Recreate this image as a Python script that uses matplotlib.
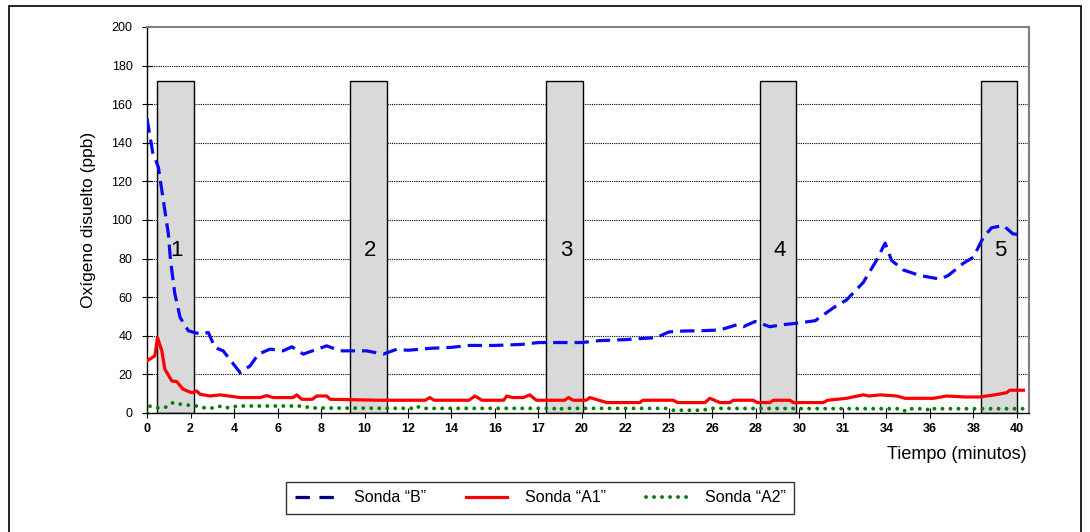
import matplotlib
matplotlib.use("Agg")
import matplotlib.pyplot as plt
from matplotlib.lines import Line2D
from matplotlib.patches import Rectangle

plt.rcParams['font.family'] = ['Liberation Sans', 'DejaVu Sans']

# category axis: one tick every step, labelled with the elapsed minutes
tick_labels = ['0', '2', '4', '6', '8', '10', '12', '14', '16', '17', '20',
               '22', '23', '26', '28', '30', '31', '34', '36', '38', '40']

# Sonda "B" (position on the category axis, ppb)
pos_b = [0, 0.13, 0.26, 0.375, 0.49, 0.54, 0.64, 0.76, 0.95, 1.22, 1.41, 1.56, 1.75, 2.14,
         2.37, 2.56, 2.83, 3.13, 3.33, 3.59, 4.13, 4.44, 5.05, 5.43, 5.74, 6.0, 6.5, 7.0,
         7.4, 8.0, 8.6, 9.0, 9.5, 10.0, 10.4, 11.0, 11.3, 11.7, 12.0, 12.35, 12.71, 13.17,
         13.56, 13.71, 13.98, 14.32, 14.59, 14.9, 15.36, 15.82, 16.08, 16.47, 16.77, 16.97,
         17.12, 17.39, 17.77, 18.23, 18.42, 18.77, 19.0, 19.23, 19.42, 19.69, 19.91, 20.13]
sonda_b = [152.6, 135, 127.4, 110, 92.8, 79, 61.7, 49.5, 42.6, 40.9, 41.7, 33.9, 32.2, 20.9,
           24.4, 30.5, 33.1, 32.2, 34.3, 30.5, 34.8, 32.2, 32.2, 30.5, 33, 32.5, 33.5, 34,
           35, 35, 35.5, 36.5, 36.5, 36.5, 37.5, 38, 38.5, 39, 42, 42.5, 42.6, 43,
           45.7, 44.7, 47.4, 44.7, 45.7, 46.4, 47.8, 55.1, 58.5, 67.7, 79, 88,
           79, 74.1, 71.2, 69.4, 71.2, 77.6, 80.7, 91.1, 96, 97.1, 92.8, 92.3]

# Sonda "A1"
pos_a1 = [0, 0.18, 0.24, 0.34, 0.41, 0.57, 0.68, 0.83, 1.03, 1.14, 1.22, 1.45, 1.68, 2.14,
          2.6, 2.75, 2.9, 3.36, 3.44, 3.56, 3.8, 3.9, 4.13, 4.21, 5.36, 6.4, 6.5, 6.6, 7.4,
          7.54, 7.7, 8.2, 8.27, 8.4, 8.65, 8.8, 8.95, 9.6, 9.69, 9.8, 10.1, 10.18, 10.57,
          11.33, 11.4, 12.1, 12.2, 12.83, 12.94, 13.17, 13.4, 13.48, 13.94, 14.03, 14.32,
          14.4, 14.78, 14.86, 15.55, 15.65, 16.08, 16.47, 16.6, 16.86, 17.24, 17.43, 18.08,
          18.38, 18.8, 19.15, 19.49, 19.76, 19.84, 20.15]
sonda_a1 = [27, 29.6, 39.1, 32.2, 22.7, 16.6, 16.3, 12.3, 10.5, 11.4, 9.7, 8.8, 9.4, 8,
            8, 9, 8, 8, 9.4, 7.1, 7.1, 8.8, 8.8, 7.1, 6.6, 6.6, 8, 6.6, 6.6,
            8.8, 6.6, 6.6, 8.8, 8.0, 8.0, 9.4, 6.6, 6.6, 8, 6.6, 6.6, 8, 5.4,
            5.4, 6.6, 6.6, 5.4, 5.4, 7.6, 5.4, 5.4, 6.6, 6.6, 5.4, 5.4,
            6.6, 6.6, 5.4, 5.4, 6.6, 7.6, 9.4, 8.8, 9.4, 8.8, 7.6, 7.6,
            8.8, 8.3, 8.3, 9.4, 10.5, 11.8, 11.8]

# Sonda "A2"
pos_a2 = [0, 0.05, 0.26, 0.44, 0.6, 0.78, 0.98, 1.15, 1.33, 1.55, 1.7, 1.88, 2.07, 3.6,
          3.75, 6.1, 6.2, 6.3, 9.35, 9.45, 9.55, 11.95, 12.1, 12.8, 12.9, 17.35, 17.43,
          17.5, 17.92, 18.0, 18.08, 20.15]
sonda_a2 = [0, 3.6, 2.6, 3.1, 5.4, 4.5, 4.0, 3.6, 2.6, 2.6, 3.6, 2.6, 3.6, 3.6,
            2.6, 2.4, 3.6, 2.4, 2.4, 1.4, 2.4, 2.4, 1.4, 1.4, 2.4, 2.2, 1.0,
            2.2, 2.2, 1.0, 2.2, 2.2]

# sampling windows
ventanas = ['1', '2', '3', '4', '5']
ventana_pos = [0.655, 5.09, 9.605, 14.505, 19.59]
ventana_alto = 172

fig = plt.figure(figsize=(10.9, 5.32), dpi=100)
ax = fig.add_axes([0.1349, 0.2237, 0.8092, 0.7256])

for yv in range(20, 200, 20):
    ax.axhline(yv, color='black', lw=0.8, ls=(0, (1, 1)), zorder=1)

ax.bar(ventana_pos, [ventana_alto] * len(ventanas), width=0.845, color='#D9D9D9',
       edgecolor='black', linewidth=1.0, zorder=2)
for p, t in zip(ventana_pos, ventanas):
    ax.text(p + 0.03, 84, t, ha='center', va='center', fontsize=16, zorder=3)

blue_style = dict(lw=2.3, ls=(0, (4.5, 2.2)), dash_capstyle='butt')
red_style = dict(lw=2.3, ls='-')
green_style = dict(lw=2.8, ls=(0, (0.01, 2.05)), dash_capstyle='round')

ax.plot(pos_b, sonda_b, color='#0A0AF0', zorder=4, **blue_style)
ax.plot(pos_a1, sonda_a1, color='#FF0000', zorder=4, **red_style)
ax.plot(pos_a2, sonda_a2, color='#008000', zorder=4, **green_style)

ax.set_xlim(0, 20.28)
ax.set_ylim(0, 200)
ax.set_xticks(range(len(tick_labels)))
ax.set_xticklabels(tick_labels, fontsize=9, fontweight='bold')
ax.set_yticks(range(0, 201, 20))
ax.tick_params(axis='y', labelsize=9, direction='inout', length=7, width=0.8, pad=7)
ax.tick_params(axis='x', direction='inout', length=7, width=0.8, pad=4)

for side in ['top', 'right']:
    ax.spines[side].set_color('#808080')
    ax.spines[side].set_linewidth(1.5)
for side in ['left', 'bottom']:
    ax.spines[side].set_color('black')
    ax.spines[side].set_linewidth(1.0)

fig.text(0.081, 0.5865, 'Oxígeno disuelto (ppb)', rotation=90, ha='center', va='center',
         fontsize=12.5)
fig.text(0.942, 0.145, 'Tiempo (minutos)', ha='right', va='center', fontsize=13)

handles = [Line2D([], [], color='#000080', lw=2.3, ls=(0, (4.5, 3.0)), dash_capstyle='butt'),
           Line2D([], [], color='#FF0000', **red_style),
           Line2D([], [], color='#008000', **green_style)]
leg = fig.legend(handles, ['Sonda “B”', 'Sonda “A1”', 'Sonda “A2”'], loc='center',
                 bbox_to_anchor=(0.4955, 0.064), ncol=3, fontsize=11.5, frameon=True,
                 fancybox=False, handlelength=2.6, columnspacing=2.5, handletextpad=1.1,
                 borderpad=0.55, borderaxespad=0)
leg.get_frame().set_edgecolor('black')
leg.get_frame().set_linewidth(1.0)

fig.patches.append(Rectangle((9 / 1090, -0.02), 1072 / 1090, 1.02 - 6 / 532,
                             transform=fig.transFigure, fill=False, edgecolor='black',
                             linewidth=1.2))

fig.savefig('out.png', dpi=100)
